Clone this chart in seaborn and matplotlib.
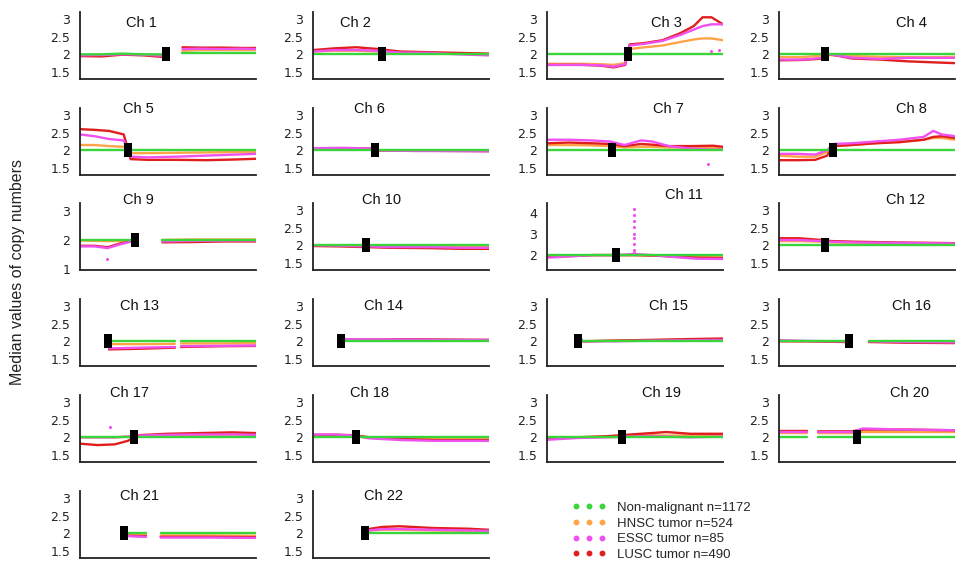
import numpy as np
import pandas as pd
import matplotlib
matplotlib.use("Agg")
import matplotlib.pyplot as plt
import seaborn as sns
from matplotlib.lines import Line2D

nan = np.nan

CHROMS = [f"Ch {i}" for i in range(1, 23)]
CHR_LEN = [249, 243, 198, 191, 181, 171, 159, 146, 141, 136, 135, 134,
           115, 107, 103, 90, 81, 78, 59, 63, 48, 51]
CENTRO = [122, 95, 91, 50, 49, 60, 59, 45, 44, 41, 53, 35,
          18, 17, 18, 36, 25, 19, 25, 28, 12, 15]

POS = [
    [0, 30, 60, 90, 115, 121, 132, 145, 170, 200, 230, 249],
    [0, 30, 60, 90, 120, 160, 200, 243],
    [0, 20, 40, 60, 75, 88, 93, 110, 130, 150, 165, 175, 185, 198],
    [0, 25, 48, 55, 80, 110, 140, 170, 191],
    [0, 15, 30, 45, 52, 70, 100, 130, 160, 181],
    [0, 30, 58, 62, 100, 140, 171],
    [0, 20, 40, 57, 70, 85, 95, 110, 130, 150, 159],
    [0, 15, 30, 40, 45, 60, 80, 100, 120, 128, 135, 146],
    [0, 12, 22, 32, 43, 55, 66, 90, 115, 141],
    [0, 20, 40, 60, 90, 115, 136],
    [0, 15, 35, 53, 66, 67, 68, 85, 100, 115, 135],
    [0, 15, 33, 40, 60, 90, 115, 134],
    [19, 40, 62, 64, 66, 90, 115],
    [18, 20, 40, 60, 80, 107],
    [19, 21, 40, 60, 80, 103],
    [0, 15, 34, 40, 46, 65, 90],
    [0, 8, 16, 22, 27, 40, 55, 70, 81],
    [0, 10, 18, 25, 40, 55, 78],
    [0, 10, 20, 28, 35, 40, 48, 59],
    [0, 10, 12, 14, 26, 30, 45, 63],
    [13, 18, 20, 22, 35, 48],
    [16, 20, 25, 35, 45, 51],
]

NONMAL = [
    [2.0, 2.0, 2.02, 2.0, 2.0, 2.0, nan, 2.05, 2.05, 2.05, 2.05, 2.05],
    [2.02, 2.02, 2.02, 2.02, 2.02, 2.02, 2.02, 2.02],
    [2.0, 2.0, 2.0, 2.0, 2.0, 2.0, 2.0, 2.0, 2.0, 2.0, 2.0, 2.0, 2.0, 2.0],
    [2.0, 2.0, 2.0, 2.0, 2.0, 2.0, 2.0, 2.0, 2.0],
    [2.0, 2.0, 2.0, 2.0, 2.0, 2.0, 2.0, 2.0, 2.0, 2.0],
    [2.0, 2.0, 2.0, 2.0, 2.0, 2.0, 2.0],
    [2.02, 2.02, 2.02, 2.02, 2.02, 2.02, 2.02, 2.02, 2.02, 2.02, 2.02],
    [2.0, 2.0, 2.0, 2.0, 2.0, 2.0, 2.0, 2.0, 2.0, 2.0, 2.0, 2.0],
    [2.0, 2.0, 2.0, 2.0, 2.0, nan, 2.0, 2.0, 2.0, 2.0],
    [2.0, 2.0, 2.0, 2.0, 2.0, 2.0, 2.0],
    [2.0, 2.0, 2.0, 2.0, 2.0, 2.0, 2.0, 2.0, 2.0, 2.0, 2.0],
    [2.0, 2.0, 2.0, 2.0, 2.0, 2.0, 2.0, 2.0],
    [2.0, 2.0, 2.0, nan, 2.0, 2.0, 2.0],
    [2.0, 2.0, 2.0, 2.0, 2.0, 2.0],
    [2.0, 2.0, 2.0, 2.0, 2.0, 2.0],
    [2.02, 2.02, 2.02, nan, 2.02, 2.02, 2.02],
    [2.02, 2.02, 2.02, 2.02, 2.02, 2.02, 2.02, 2.02, 2.02],
    [2.02, 2.02, 2.02, 2.02, 2.02, 2.02, 2.02],
    [2.0, 2.0, 2.0, 2.0, 2.0, 2.0, 2.0, 2.0],
    [2.02, 2.02, nan, 2.02, 2.02, 2.02, 2.02, 2.02],
    [2.0, 2.0, nan, 2.0, 2.0, 2.0],
    [2.02, 2.02, 2.02, 2.02, 2.02, 2.02],
]

HNSC = [
    [1.98, 1.98, 2.0, 1.99, 1.97, 1.98, nan, 2.1, 2.12, 2.12, 2.12, 2.12],
    [2.08, 2.1, 2.1, 2.08, 2.04, 2.03, 2.02, 2.0],
    [1.73, 1.73, 1.73, 1.72, 1.7, 1.75, 2.15, 2.2, 2.25, 2.35, 2.42, 2.45, 2.45, 2.4],
    [1.92, 1.92, 1.97, 1.98, 1.95, 1.93, 1.92, 1.92, 1.93],
    [2.15, 2.15, 2.12, 2.1, 1.92, 1.92, 1.93, 1.94, 1.95, 1.95],
    [2.05, 2.05, 2.04, 2.0, 1.99, 1.99, 1.98],
    [2.15, 2.15, 2.14, 2.12, 2.08, 2.1, 2.1, 2.08, 2.07, 2.07, 2.05],
    [1.85, 1.82, 1.82, 1.95, 2.12, 2.15, 2.2, 2.25, 2.3, 2.35, 2.35, 2.3],
    [1.98, 1.97, 1.96, 1.97, 1.98, nan, 2.0, 2.02, 2.02, 2.02],
    [2.0, 2.0, 1.98, 1.97, 1.97, 1.96, 1.96],
    [1.95, 1.97, 2.0, 2.0, 2.0, 2.0, 2.0, 1.98, 1.93, 1.9, 1.9],
    [2.12, 2.12, 2.1, 2.08, 2.07, 2.06, 2.05, 2.05],
    [1.92, 1.92, 1.93, nan, 1.94, 1.94, 1.95],
    [2.05, 2.04, 2.03, 2.03, 2.03, 2.03],
    [2.0, 2.0, 2.02, 2.03, 2.04, 2.05],
    [2.02, 2.0, 2.0, nan, 2.0, 1.99, 1.98],
    [2.0, 2.0, 2.0, 2.02, 2.05, 2.06, 2.07, 2.08, 2.08],
    [2.06, 2.06, 2.05, 2.0, 1.97, 1.95, 1.95],
    [1.98, 2.0, 2.02, 2.04, 2.06, 2.05, 2.05, 2.05],
    [2.12, 2.12, nan, 2.12, 2.12, 2.15, 2.15, 2.15],
    [1.95, 1.95, nan, 1.94, 1.94, 1.93],
    [2.08, 2.1, 2.1, 2.08, 2.07, 2.06],
]

ESSC = [
    [1.97, 1.98, 2.0, 1.99, 1.96, 1.96, nan, 2.15, 2.16, 2.15, 2.16, 2.15],
    [2.08, 2.12, 2.12, 2.1, 2.05, 2.04, 2.0, 1.97],
    [1.7, 1.7, 1.7, 1.69, 1.65, 1.72, 2.25, 2.3, 2.38, 2.55, 2.7, 2.8, 2.85, 2.85],
    [1.85, 1.85, 1.9, 2.0, 1.9, 1.87, 1.9, 1.9, 1.9],
    [2.45, 2.4, 2.32, 2.28, 1.82, 1.8, 1.82, 1.85, 1.88, 1.9],
    [2.06, 2.07, 2.05, 2.0, 1.98, 1.98, 1.97],
    [2.3, 2.3, 2.28, 2.25, 2.15, 2.28, 2.25, 2.12, 2.05, 2.02, 2.02],
    [1.9, 1.9, 1.88, 2.0, 2.18, 2.2, 2.25, 2.3, 2.38, 2.55, 2.45, 2.4],
    [1.78, 1.78, 1.72, 1.85, 1.97, nan, 1.95, 1.97, 1.98, 1.98],
    [2.0, 1.99, 1.97, 1.95, 1.95, 1.93, 1.93],
    [1.88, 1.93, 2.0, 2.0, 2.05, 2.12, 2.05, 1.98, 1.9, 1.83, 1.82],
    [2.15, 2.15, 2.12, 2.1, 2.08, 2.07, 2.06, 2.05],
    [1.8, 1.82, 1.84, nan, 1.86, 1.87, 1.88],
    [2.1, 2.06, 2.05, 2.05, 2.04, 2.04],
    [2.15, 2.0, 2.0, 2.02, 2.03, 2.04],
    [2.03, 2.01, 2.0, nan, 2.0, 1.98, 1.97],
    [2.0, 2.0, 2.0, 2.02, 2.05, 2.07, 2.08, 2.08, 2.07],
    [2.08, 2.08, 2.05, 1.97, 1.92, 1.9, 1.9],
    [1.93, 1.98, 2.0, 2.02, 2.03, 2.02, 2.0, 2.02],
    [2.15, 2.15, nan, 2.15, 2.15, 2.25, 2.22, 2.2],
    [1.92, 1.9, nan, 1.88, 1.88, 1.87],
    [2.08, 2.12, 2.12, 2.1, 2.08, 2.07],
]

LUSC = [
    [1.95, 1.94, 1.99, 1.97, 1.93, 1.95, nan, 2.2, 2.19, 2.19, 2.18, 2.18],
    [2.12, 2.17, 2.2, 2.15, 2.08, 2.06, 2.04, 2.02],
    [1.7, 1.7, 1.7, 1.68, 1.63, 1.7, 2.28, 2.32, 2.4, 2.6, 2.8, 3.05, 3.05, 2.85],
    [1.83, 1.84, 1.88, 2.0, 1.88, 1.85, 1.8, 1.77, 1.75],
    [2.6, 2.58, 2.55, 2.45, 1.75, 1.73, 1.73, 1.72, 1.74, 1.76],
    [2.05, 2.06, 2.05, 2.0, 1.99, 1.98, 1.98],
    [2.2, 2.22, 2.2, 2.18, 2.12, 2.18, 2.16, 2.12, 2.12, 2.13, 2.1],
    [1.72, 1.72, 1.73, 1.85, 2.12, 2.15, 2.2, 2.23, 2.3, 2.38, 2.4, 2.35],
    [1.8, 1.8, 1.75, 1.88, 1.97, nan, 1.92, 1.93, 1.95, 1.95],
    [1.98, 1.97, 1.95, 1.93, 1.92, 1.9, 1.9],
    [1.93, 1.95, 2.0, 2.0, 2.0, 2.0, 2.0, 1.97, 1.92, 1.88, 1.86],
    [2.2, 2.2, 2.15, 2.12, 2.1, 2.08, 2.07, 2.06],
    [1.77, 1.79, 1.82, nan, 1.84, 1.86, 1.87],
    [2.05, 2.05, 2.05, 2.06, 2.05, 2.04],
    [2.0, 2.0, 2.02, 2.04, 2.06, 2.08],
    [2.0, 2.0, 1.98, nan, 1.98, 1.96, 1.95],
    [1.82, 1.78, 1.8, 1.9, 2.06, 2.1, 2.12, 2.14, 2.12],
    [2.07, 2.07, 2.06, 2.0, 1.95, 1.92, 1.92],
    [1.97, 2.0, 2.03, 2.08, 2.12, 2.15, 2.1, 2.1],
    [2.18, 2.18, nan, 2.17, 2.17, 2.22, 2.22, 2.2],
    [1.93, 1.92, nan, 1.9, 1.9, 1.89],
    [2.12, 2.18, 2.2, 2.15, 2.13, 2.1],
]

# isolated ESSC probe values (outlier dots)
ESSC_DOT_CHR = ["Ch 11"] * 8 + ["Ch 9", "Ch 7", "Ch 17", "Ch 3", "Ch 3"]
ESSC_DOT_POS = [67, 67, 67, 67, 67, 67, 67, 67, 22, 145, 14, 185, 193]
ESSC_DOT_VAL = [2.25, 2.5, 2.8, 3.0, 3.3, 3.6, 3.9, 4.15, 1.35, 1.62, 2.3, 2.1, 2.12]

GROUPS = ["Non-malignant n=1172", "HNSC tumor n=524", "ESSC tumor n=85", "LUSC tumor n=490"]
SERIES = [NONMAL, HNSC, ESSC, LUSC]
COLORS = dict(zip(GROUPS, ["#3ad53a", "#ffa347", "#f050f0", "#e01e1e"]))
DRAW_ORDER = [GROUPS[1], GROUPS[3], GROUPS[2], GROUPS[0]]

rows = []
for ci, ch in enumerate(CHROMS):
    for g, ser in zip(GROUPS, SERIES):
        seg = 0
        for x, v in zip(POS[ci], ser[ci]):
            if np.isnan(v):
                seg += 1
                continue
            rows.append((ch, x, v, g, seg))
df = pd.DataFrame(rows, columns=["chrom", "pos", "value", "group", "seg"])
dots = pd.DataFrame({"chrom": ESSC_DOT_CHR, "pos": ESSC_DOT_POS, "value": ESSC_DOT_VAL})

sns.set_style("white")
plt.rcParams["font.family"] = ["Liberation Sans", "DejaVu Sans"]

W, H = 956, 562
fig = plt.figure(figsize=(W / 100, H / 100), dpi=100)

COL_LEFT = [80, 313, 547, 779]
ROW_TOP = [12, 108, 203, 299, 395, 491]
AX_W, AX_H = 176, 67
TITLE_X = [0.35, 0.24, 0.68, 0.75, 0.33, 0.32, 0.69, 0.75, 0.33, 0.39, 0.78, 0.72,
           0.34, 0.40, 0.69, 0.75, 0.28, 0.32, 0.65, 0.74, 0.34, 0.40]
TITLE_Y_ROW = [0.84, 0.98, 1.04, 0.89, 1.03, 0.92]

for ci, ch in enumerate(CHROMS):
    r, c = divmod(ci, 4)
    left = COL_LEFT[c] / W
    bottom = 1 - (ROW_TOP[r] + AX_H) / H
    ax = fig.add_axes([left, bottom, AX_W / W, AX_H / H])
    sub = df[df.chrom == ch]
    sns.lineplot(data=sub, x="pos", y="value", hue="group", hue_order=DRAW_ORDER,
                 palette=COLORS, units="seg", estimator=None, sort=False,
                 lw=1.7, legend=False, ax=ax)
    dsub = dots[dots.chrom == ch]
    if len(dsub):
        sns.scatterplot(data=dsub, x="pos", y="value", color=COLORS[GROUPS[2]],
                        s=5, linewidth=0, legend=False, ax=ax)
    ax.scatter([CENTRO[ci]], [2.0], marker=[(-0.34, -0.5), (0.34, -0.5), (0.34, 0.5), (-0.34, 0.5)],
               s=90, c="black", zorder=6, linewidths=0)
    ax.set_xlim(0, CHR_LEN[ci])
    if ch == "Ch 9":
        ax.set_ylim(0.97, 3.27)
        ax.set_yticks([1, 2, 3])
        ax.set_yticklabels(["1", "2", "3"])
    elif ch == "Ch 11":
        ax.set_ylim(1.3, 4.45)
        ax.set_yticks([2, 3, 4])
        ax.set_yticklabels(["2", "3", "4"])
    else:
        ax.set_ylim(1.3, 3.2)
        ax.set_yticks([1.5, 2, 2.5, 3])
        ax.set_yticklabels(["1.5", "2", "2.5", "3"])
    ax.set_xticks([])
    ax.set_xlabel("")
    ax.set_ylabel("")
    ax.tick_params(axis="y", direction="in", length=2, width=0.8, pad=7,
                   labelsize=9, colors="#222222")
    for lab in ax.get_yticklabels():
        lab.set_family(["DejaVu Sans"])
    for s in ["top", "right"]:
        ax.spines[s].set_visible(False)
    for s in ["left", "bottom"]:
        ax.spines[s].set_color("#222222")
        ax.spines[s].set_linewidth(1.3)
    ax.patch.set_alpha(0)
    ty = 1.12 if ch == "Ch 11" else TITLE_Y_ROW[r]
    ax.text(TITLE_X[ci], ty, ch, transform=ax.transAxes, ha="center", va="center",
            fontsize=10.5, color="#111111", clip_on=False)

fig.text(18 / W, 1 - 272 / H, "Median values of copy numbers", rotation=90,
         ha="center", va="center", fontsize=11.5, color="#222222")

handles = [Line2D([0], [0], ls="", marker="o", ms=3.2, color=COLORS[g]) for g in GROUPS]
fig.legend(handles, GROUPS, loc="upper left", bbox_to_anchor=(560 / W, 1 - 490 / H),
           frameon=False, numpoints=3, handlelength=2.6, handletextpad=0.8,
           labelspacing=0.25, fontsize=9.5)

fig.savefig("out.png", dpi=100)
